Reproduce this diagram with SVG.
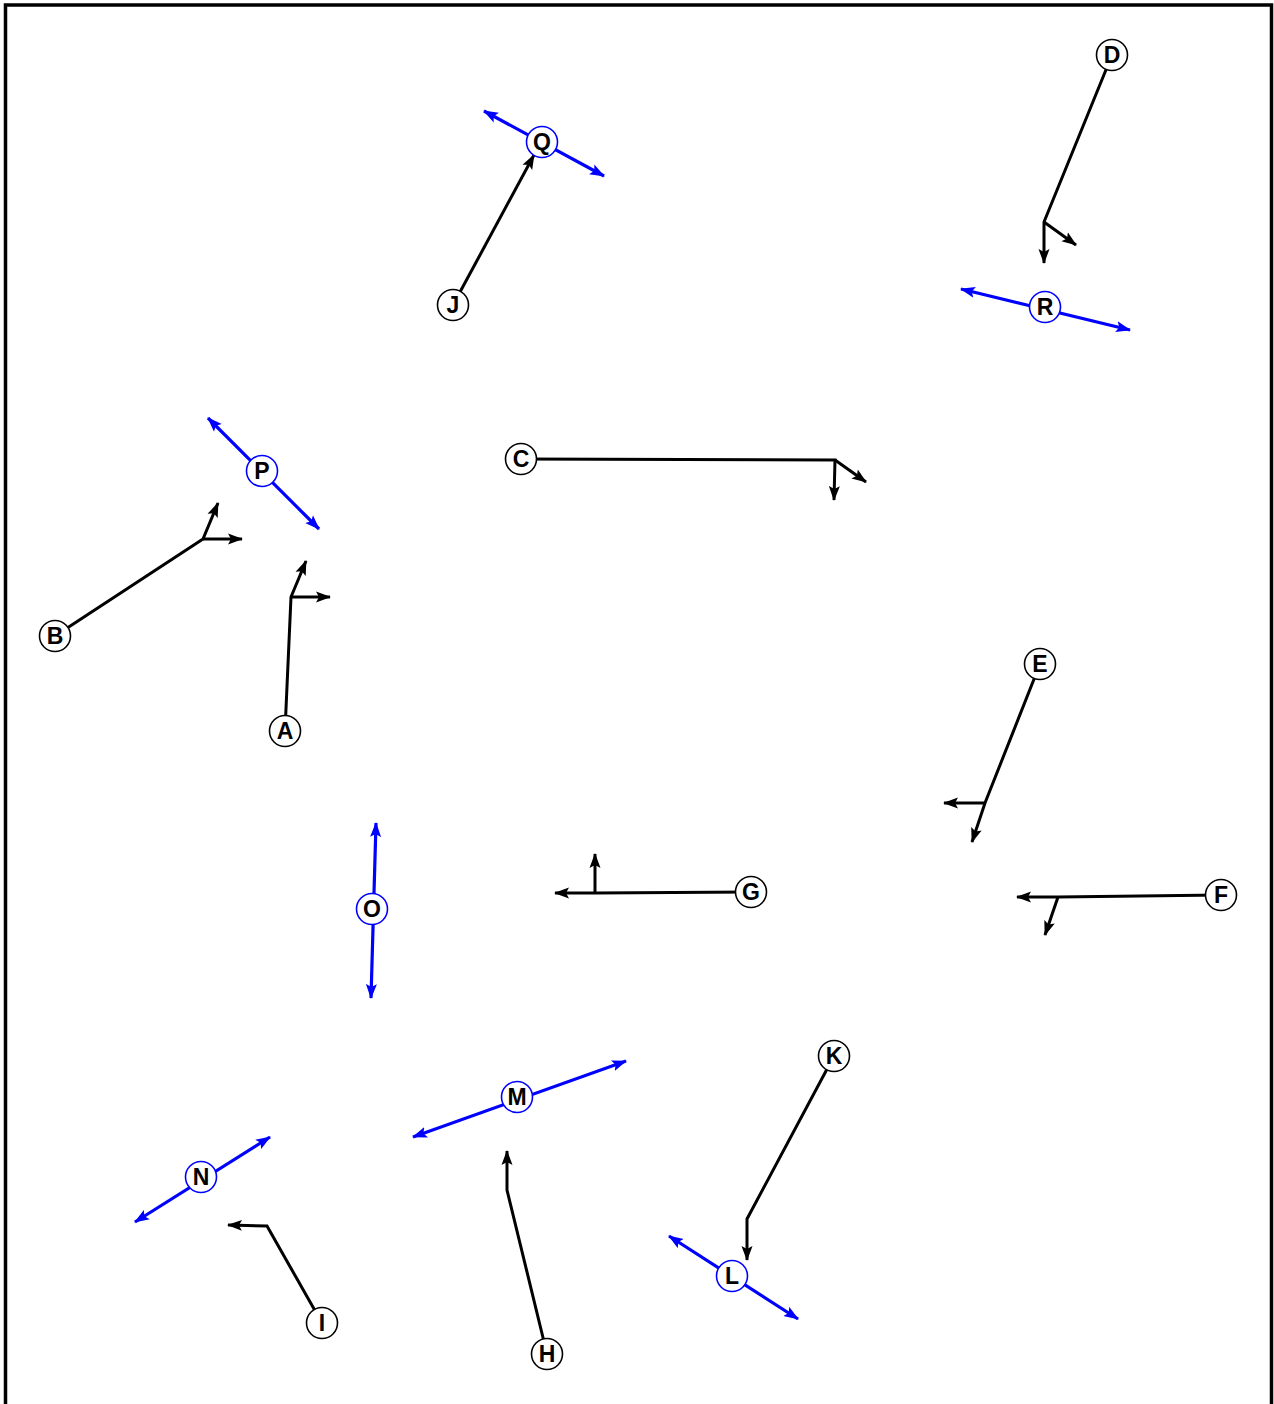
<svg xmlns="http://www.w3.org/2000/svg" width="1274" height="1404" viewBox="0 0 1274 1404">
<style>
.frame{fill:none;stroke:#000;stroke-width:3.5}
.e{fill:none;stroke:#000;stroke-width:3;stroke-linejoin:miter}
.eb{fill:none;stroke:#0000ff;stroke-width:3.2}
.n circle{fill:#fff;stroke:#000;stroke-width:1.6}
.nb circle{fill:#fff;stroke:#0000ff;stroke-width:1.6}
text{font-family:"Liberation Sans",Arial,sans-serif;font-weight:bold;font-size:23px;text-anchor:middle;fill:#000}
</style>
<defs>
<marker id="ak" markerUnits="userSpaceOnUse" markerWidth="16" markerHeight="12" refX="14" refY="6" orient="auto" viewBox="0 0 16 12">
<path d="M0,0.5 L15,6 L0,11.5 L3,6 z" fill="#000"/>
</marker>
<marker id="ab" markerUnits="userSpaceOnUse" markerWidth="16" markerHeight="12" refX="14" refY="6" orient="auto-start-reverse" viewBox="0 0 16 12">
<path d="M0,0.5 L15,6 L0,11.5 L3,6 z" fill="#0000ff"/>
</marker>
</defs>
<rect class="frame" x="5.5" y="5" width="1266" height="1420"/>
<g id="connectors">
<polyline class="e" points="1112,55 1044,222 1044,263" marker-end="url(#ak)"/>
<line class="e" x1="1044" y1="222" x2="1076" y2="245" marker-end="url(#ak)"/>
<line class="e" x1="453" y1="305" x2="534" y2="155" marker-end="url(#ak)"/>
<polyline class="e" points="521,459 835,460 834,500" marker-end="url(#ak)"/>
<line class="e" x1="835" y1="460" x2="866" y2="482" marker-end="url(#ak)"/>
<polyline class="e" points="55,636 203,539 218,503" marker-end="url(#ak)"/>
<line class="e" x1="203" y1="539" x2="242" y2="539" marker-end="url(#ak)"/>
<polyline class="e" points="285,731 291,597 306,561" marker-end="url(#ak)"/>
<line class="e" x1="291" y1="597" x2="330" y2="597" marker-end="url(#ak)"/>
<polyline class="e" points="1040,664 985,803 972,842" marker-end="url(#ak)"/>
<line class="e" x1="985" y1="803" x2="944" y2="803" marker-end="url(#ak)"/>
<polyline class="e" points="751,892 595,893 555,893" marker-end="url(#ak)"/>
<line class="e" x1="595" y1="893" x2="595" y2="854" marker-end="url(#ak)"/>
<polyline class="e" points="1221,895 1058,897 1017,897" marker-end="url(#ak)"/>
<line class="e" x1="1058" y1="897" x2="1045" y2="935" marker-end="url(#ak)"/>
<polyline class="e" points="834,1056 747,1219 747,1260" marker-end="url(#ak)"/>
<polyline class="e" points="322,1323 267,1226 228,1225" marker-end="url(#ak)"/>
<polyline class="e" points="547,1354 507,1190 507,1151" marker-end="url(#ak)"/>
<line class="eb" x1="484" y1="111" x2="604" y2="176" marker-start="url(#ab)" marker-end="url(#ab)"/>
<line class="eb" x1="961" y1="289" x2="1130" y2="330" marker-start="url(#ab)" marker-end="url(#ab)"/>
<line class="eb" x1="208" y1="418" x2="319" y2="529" marker-start="url(#ab)" marker-end="url(#ab)"/>
<line class="eb" x1="376" y1="823" x2="371" y2="998" marker-start="url(#ab)" marker-end="url(#ab)"/>
<line class="eb" x1="413" y1="1137" x2="626" y2="1061" marker-start="url(#ab)" marker-end="url(#ab)"/>
<line class="eb" x1="135" y1="1222" x2="270" y2="1137" marker-start="url(#ab)" marker-end="url(#ab)"/>
<line class="eb" x1="669" y1="1236" x2="798" y2="1319" marker-start="url(#ab)" marker-end="url(#ab)"/>
</g>
<g id="D" class="n"><circle cx="1112" cy="55" r="15.5"/><text x="1112" y="63">D</text></g>
<g id="Q" class="nb"><circle cx="542" cy="142" r="15.5"/><text x="542" y="150">Q</text></g>
<g id="J" class="n"><circle cx="453" cy="305" r="15.5"/><text x="453" y="313">J</text></g>
<g id="R" class="nb"><circle cx="1045" cy="307" r="15.5"/><text x="1045" y="315">R</text></g>
<g id="P" class="nb"><circle cx="262" cy="471" r="15.5"/><text x="262" y="479">P</text></g>
<g id="C" class="n"><circle cx="521" cy="459" r="15.5"/><text x="521" y="467">C</text></g>
<g id="B" class="n"><circle cx="55" cy="636" r="15.5"/><text x="55" y="644">B</text></g>
<g id="A" class="n"><circle cx="285" cy="731" r="15.5"/><text x="285" y="739">A</text></g>
<g id="E" class="n"><circle cx="1040" cy="664" r="15.5"/><text x="1040" y="672">E</text></g>
<g id="O" class="nb"><circle cx="372" cy="909" r="15.5"/><text x="372" y="917">O</text></g>
<g id="G" class="n"><circle cx="751" cy="892" r="15.5"/><text x="751" y="900">G</text></g>
<g id="F" class="n"><circle cx="1221" cy="895" r="15.5"/><text x="1221" y="903">F</text></g>
<g id="K" class="n"><circle cx="834" cy="1056" r="15.5"/><text x="834" y="1064">K</text></g>
<g id="M" class="nb"><circle cx="517" cy="1097" r="15.5"/><text x="517" y="1105">M</text></g>
<g id="N" class="nb"><circle cx="201" cy="1177" r="15.5"/><text x="201" y="1185">N</text></g>
<g id="L" class="nb"><circle cx="732" cy="1276" r="15.5"/><text x="732" y="1284">L</text></g>
<g id="I" class="n"><circle cx="322" cy="1323" r="15.5"/><text x="322" y="1331">I</text></g>
<g id="H" class="n"><circle cx="547" cy="1354" r="15.5"/><text x="547" y="1362">H</text></g>
</svg>
